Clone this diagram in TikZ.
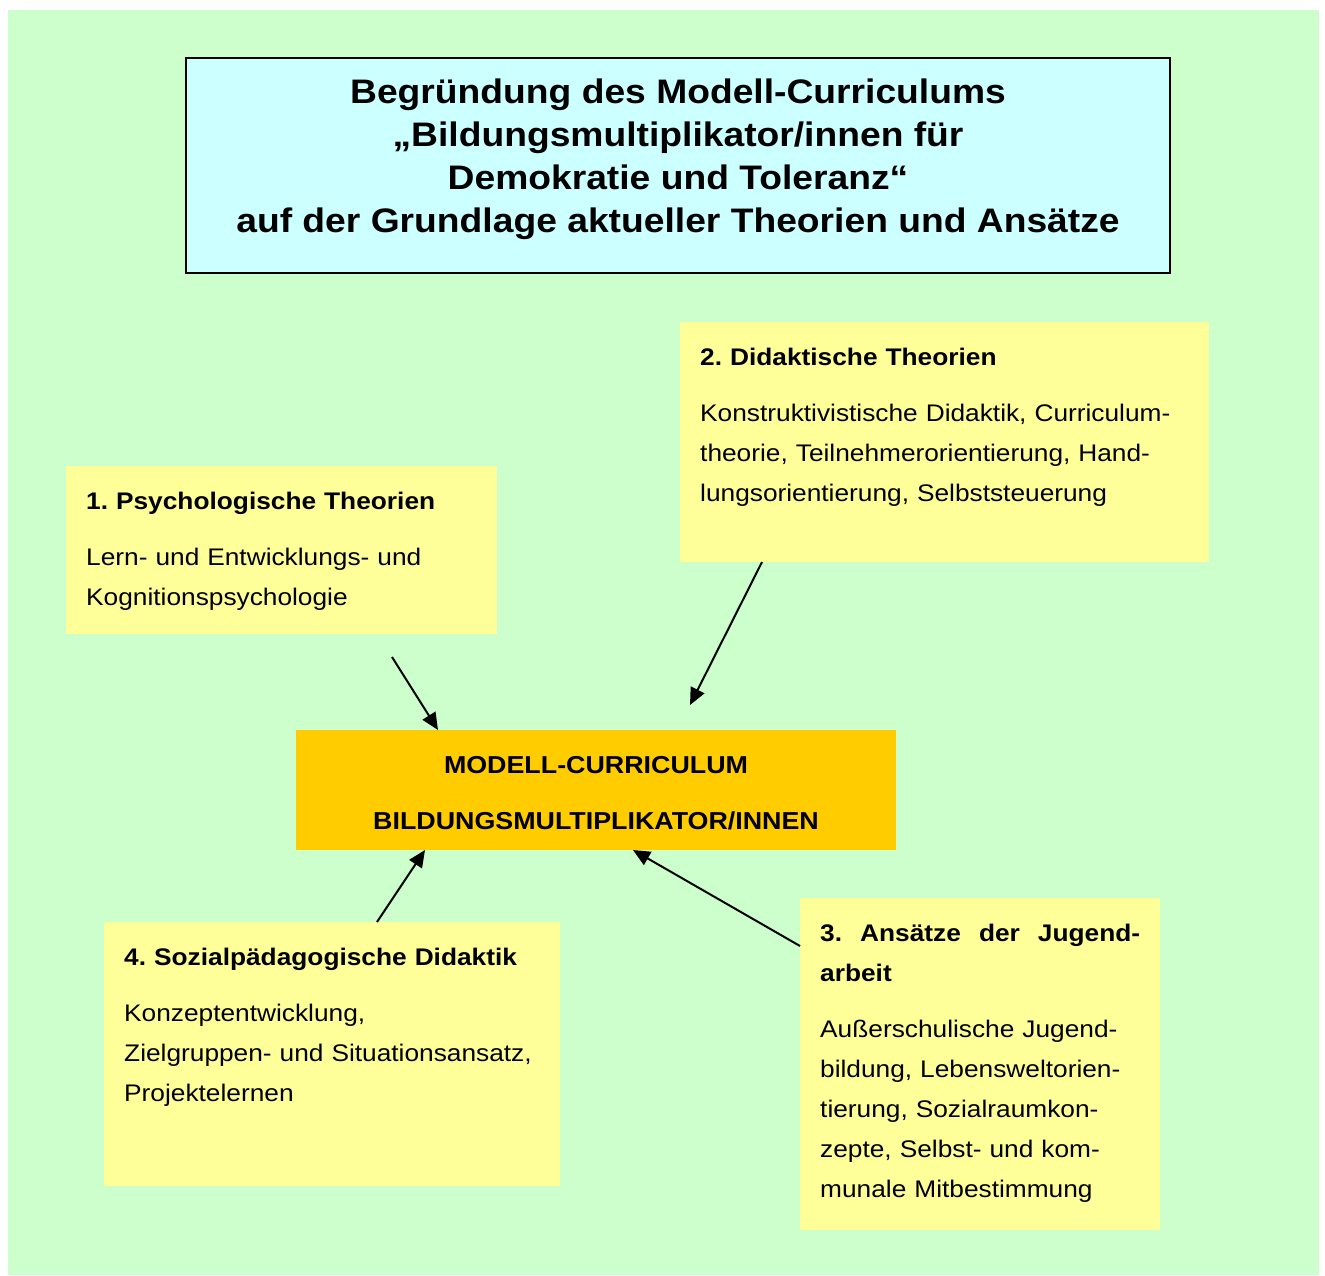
\documentclass[tikz,border=0pt]{standalone}
\usepackage{fontspec}
\setmainfont{Liberation Sans}[FakeStretch=1.095]
\frenchspacing
\usetikzlibrary{arrows.meta,positioning}
\definecolor{hintergrund}{HTML}{CCFFCC}
\definecolor{titelblau}{HTML}{CCFFFF}
\definecolor{kastengelb}{HTML}{FFFF99}
\definecolor{mitteorange}{HTML}{FFCC00}
\tikzstyle{arrow} = [line width=2pt, -{Triangle[length=17pt,width=15pt]}]
\tikzstyle{kasten} = [fill=kastengelb, anchor=north west, inner sep=0pt, outer sep=0pt]
\tikzstyle{kastentext} = [anchor=north west, inner sep=0pt, align=left, font=\fontsize{24}{40}\selectfont]
\newcommand{\ueber}[1]{{\bfseries #1}\\[16pt]}

\begin{document}
\begin{tikzpicture}[x=1pt,y=-1pt]
\useasboundingbox (0,0) rectangle (1325,1275);
\fill[hintergrund] (8,10) rectangle (1319,1275);

% Titel
\node[draw, line width=2pt, fill=titelblau, anchor=north west, inner sep=0pt, outer sep=0pt,
      minimum width=984pt, minimum height=215pt] (titel) at (186,58) {};
\node[below=21pt of titel.north, anchor=north, inner sep=0pt, align=center,
      font=\fontsize{34}{43}\selectfont\bfseries] (titeltext)
  {Begründung des Modell-Curriculums\\
   „Bildungsmultiplikator/innen für\\
   Demokratie und Toleranz“\\
   auf der Grundlage aktueller Theorien und Ansätze};

% Mitte
\node[fill=mitteorange, anchor=north west, inner sep=0pt, outer sep=0pt,
      minimum width=600pt, minimum height=120pt, align=center,
      font=\fontsize{24.5}{40}\selectfont\bfseries] (modell) at (296,730)
  {\rule{0pt}{24pt}MODELL-CURRICULUM\\[16pt] BILDUNGSMULTIPLIKATOR/INNEN};

% die vier Kaesten
\node[kasten, minimum width=431pt, minimum height=168pt] (psych) at (66,466) {};
\node[kastentext, text width=400pt, below right=26pt and 20pt of psych.north west] (psychtext)
  {\ueber{1. Psychologische Theorien}
   Lern- und Entwicklungs- und\\
   Kognitionspsychologie};

\node[kasten, minimum width=529pt, minimum height=240pt] (didakt) at (680,322) {};
\node[kastentext, text width=495pt, below right=26pt and 20pt of didakt.north west] (didakttext)
  {\ueber{2. Didaktische Theorien}
   Konstruktivistische Didaktik, Curriculum-\\
   theorie, Teilnehmerorientierung, Hand-\\
   lungsorientierung, Selbststeuerung};

\node[kasten, minimum width=360pt, minimum height=332pt] (jugend) at (800,898) {};
\node[kastentext, text width=320pt, below right=26pt and 20pt of jugend.north west] (jugendtext)
  {\ueber{3.\hfill Ansätze\hfill der\hfill Jugend-\\arbeit}
   Außerschulische Jugend-\\
   bildung, Lebensweltorien-\\
   tierung, Sozialraumkon-\\
   zepte, Selbst- und kom-\\
   munale Mitbestimmung};

\node[kasten, minimum width=456pt, minimum height=264pt] (sozial) at (104,922) {};
\node[kastentext, text width=420pt, below right=26pt and 20pt of sozial.north west] (sozialtext)
  {\ueber{4. Sozialpädagogische Didaktik}
   Konzeptentwicklung,\\
   Zielgruppen- und Situationsansatz,\\
   Projektelernen};

% Pfeile
\draw[arrow] ([xshift=326pt, yshift=-23pt]psych.south west) -- ([xshift=142pt]modell.north west);
\draw[arrow] ([xshift=82pt]didakt.south west) -- ([xshift=394pt, yshift=25pt]modell.north west);
\draw[arrow] ([yshift=-48pt]jugend.north west) -- ([xshift=337pt]modell.south west);
\draw[arrow] ([xshift=273pt]sozial.north west) -- ([xshift=129pt]modell.south west);

\end{tikzpicture}
\end{document}
